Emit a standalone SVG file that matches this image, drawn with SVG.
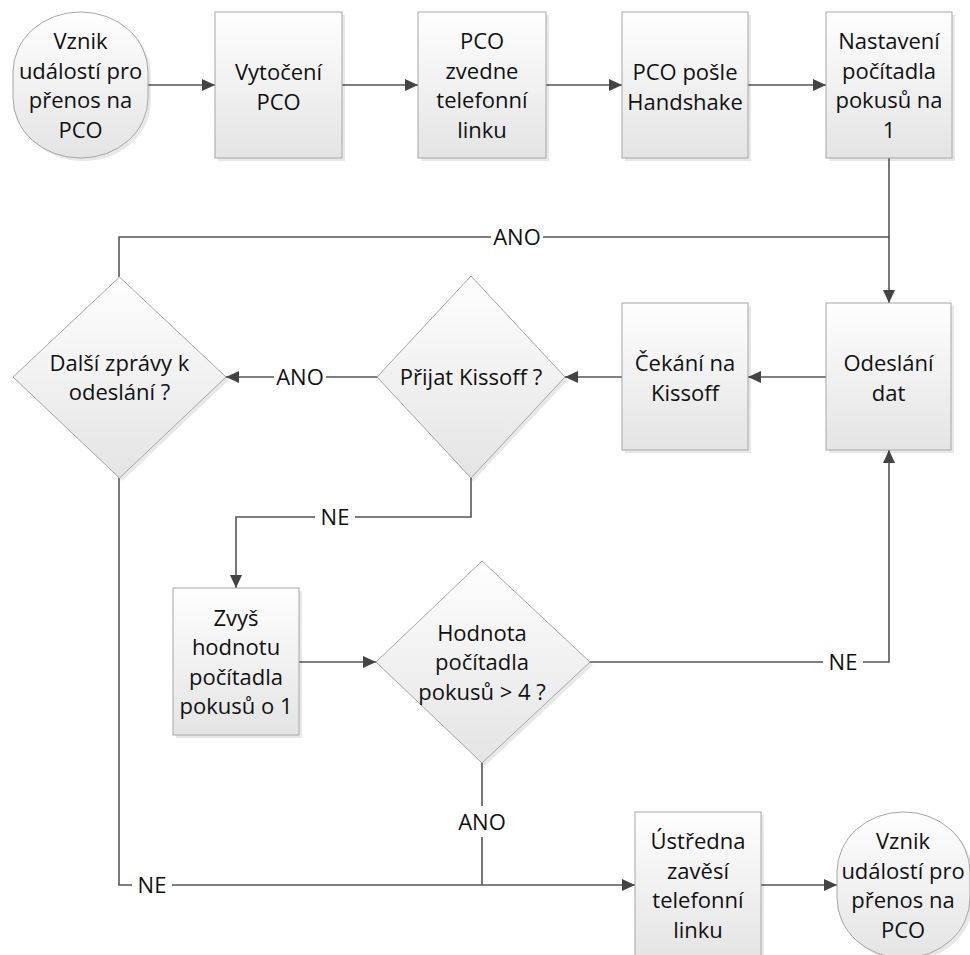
<svg xmlns="http://www.w3.org/2000/svg" width="970" height="955" viewBox="0 0 970 955">
<style>
  .shape { fill: url(#g); stroke: #a6a6a6; stroke-width: 1; }
  .shadow { fill: #000; opacity: 0.09; }
  .t { font-family: "Open Sans", "Liberation Sans", sans-serif; font-size: 22px; fill: #111; text-anchor: middle; }
  .c { fill: none; stroke: #555; stroke-width: 1.6; }
  .a { marker-end: url(#arr); }
  .lb { fill: #fff; }
</style>
<defs>
  <linearGradient id="g" x1="0" y1="0" x2="0" y2="1">
    <stop offset="0" stop-color="#fefefe"/>
    <stop offset="1" stop-color="#e4e4e4"/>
  </linearGradient>
  <marker id="arr" markerUnits="userSpaceOnUse" markerWidth="14" markerHeight="12" refX="13" refY="6" orient="auto">
    <path d="M0,0 L13,6 L0,12 z" fill="#444"/>
  </marker>
</defs>
<rect width="970" height="955" fill="#fff"/>

<g id="connectors">
  <path class="c a" d="M148,85 H215"/>
  <path class="c a" d="M342,85 H418"/>
  <path class="c a" d="M546,85 H622"/>
  <path class="c a" d="M748,85 H826"/>
  <path class="c a" d="M889,158 V303"/>
  <path class="c" d="M119,277 V237 H889"/>
  <path class="c a" d="M826,377 H748"/>
  <path class="c a" d="M622,377 H565"/>
  <path class="c a" d="M377,377 H226"/>
  <path class="c a" d="M471,478 V517 H236 V588"/>
  <path class="c a" d="M299,662 H376"/>
  <path class="c a" d="M590,662 H889 V450"/>
  <path class="c" d="M482,763 V885"/>
  <path class="c a" d="M119,478 V885 H635"/>
  <path class="c a" d="M761,885 H837"/>
  <g id="labels">
    <rect class="lb" x="491" y="225" width="52" height="24"/>
    <text class="t" x="517" y="245">ANO</text>
    <rect class="lb" x="274" y="365" width="52" height="24"/>
    <text class="t" x="300" y="385">ANO</text>
    <rect class="lb" x="315" y="505" width="40" height="24"/>
    <text class="t" x="335" y="525">NE</text>
    <rect class="lb" x="823" y="650" width="40" height="24"/>
    <text class="t" x="843" y="670">NE</text>
    <rect class="lb" x="456" y="806" width="52" height="31"/>
    <text class="t" x="482" y="830">ANO</text>
    <rect class="lb" x="132" y="873" width="40" height="24"/>
    <text class="t" x="152" y="893">NE</text>
  </g>
</g>

<g id="start">
  <rect class="shadow" x="16" y="15" width="135" height="146" rx="67" ry="60"/>
  <rect class="shape" x="13" y="12" width="135" height="146" rx="67" ry="60"/>
  <text class="t" x="80.5" y="49">Vznik</text>
  <text class="t" x="80.5" y="78.5">událostí pro</text>
  <text class="t" x="80.5" y="108">přenos na</text>
  <text class="t" x="80.5" y="137.5">PCO</text>
</g>

<g id="vytoceni">
  <rect class="shadow" x="218" y="15" width="127" height="146"/>
  <rect class="shape" x="215" y="12" width="127" height="146"/>
  <text class="t" x="278.5" y="80">Vytočení</text>
  <text class="t" x="278.5" y="109.5">PCO</text>
</g>

<g id="zvedne">
  <rect class="shadow" x="421" y="15" width="128" height="146"/>
  <rect class="shape" x="418" y="12" width="128" height="146"/>
  <text class="t" x="482" y="49">PCO</text>
  <text class="t" x="482" y="78.5">zvedne</text>
  <text class="t" x="482" y="108">telefonní</text>
  <text class="t" x="482" y="137.5">linku</text>
</g>

<g id="handshake">
  <rect class="shadow" x="625" y="15" width="126" height="146"/>
  <rect class="shape" x="622" y="12" width="126" height="146"/>
  <text class="t" x="685" y="80">PCO pošle</text>
  <text class="t" x="685" y="109.5">Handshake</text>
</g>

<g id="nastaveni">
  <rect class="shadow" x="829" y="15" width="126" height="146"/>
  <rect class="shape" x="826" y="12" width="126" height="146"/>
  <text class="t" x="889" y="49">Nastavení</text>
  <text class="t" x="889" y="78.5">počítadla</text>
  <text class="t" x="889" y="108">pokusů na</text>
  <text class="t" x="889" y="137.5">1</text>
</g>

<g id="odeslani">
  <rect class="shadow" x="829" y="306" width="125" height="147"/>
  <rect class="shape" x="826" y="303" width="125" height="147"/>
  <text class="t" x="888.5" y="371">Odeslání</text>
  <text class="t" x="888.5" y="400.5">dat</text>
</g>

<g id="cekani">
  <rect class="shadow" x="625" y="306" width="126" height="147"/>
  <rect class="shape" x="622" y="303" width="126" height="147"/>
  <text class="t" x="685" y="371">Čekání na</text>
  <text class="t" x="685" y="400.5">Kissoff</text>
</g>

<g id="prijat">
  <path class="shadow" d="M473,279 L568,380 L473,481 L380,380 z"/>
  <path class="shape" d="M471,276 L565,377 L471,478 L377,377 z"/>
  <text class="t" x="471" y="385">Přijat Kissoff ?</text>
</g>

<g id="dalsi">
  <path class="shadow" d="M122,280 L229,380 L122,481 L16,380 z"/>
  <path class="shape" d="M119.5,277 L226,377 L119.5,478 L13,377 z"/>
  <text class="t" x="119.5" y="370.5">Další zprávy k</text>
  <text class="t" x="119.5" y="400">odeslání ?</text>
</g>

<g id="zvys">
  <rect class="shadow" x="176" y="591" width="126" height="147"/>
  <rect class="shape" x="173" y="588" width="126" height="147"/>
  <text class="t" x="236" y="625.5">Zvyš</text>
  <text class="t" x="236" y="655">hodnotu</text>
  <text class="t" x="236" y="684.5">počítadla</text>
  <text class="t" x="236" y="714">pokusů o 1</text>
</g>

<g id="hodnota">
  <path class="shadow" d="M485,564 L593,665 L485,766 L379,665 z"/>
  <path class="shape" d="M482,561 L590,662 L482,763 L376,662 z"/>
  <text class="t" x="482" y="640.5">Hodnota</text>
  <text class="t" x="482" y="670">počítadla</text>
  <text class="t" x="482" y="699.5">pokusů &gt; 4 ?</text>
</g>

<g id="ustredna">
  <rect class="shadow" x="638" y="815" width="126" height="147"/>
  <rect class="shape" x="635" y="812" width="126" height="147"/>
  <text class="t" x="698" y="849">Ústředna</text>
  <text class="t" x="698" y="878.5">zavěsí</text>
  <text class="t" x="698" y="908">telefonní</text>
  <text class="t" x="698" y="937.5">linku</text>
</g>

<g id="end">
  <rect class="shadow" x="840" y="815" width="133" height="146" rx="66" ry="60"/>
  <rect class="shape" x="837" y="812" width="133" height="146" rx="66" ry="60"/>
  <text class="t" x="903" y="849">Vznik</text>
  <text class="t" x="903" y="878.5">událostí pro</text>
  <text class="t" x="903" y="908">přenos na</text>
  <text class="t" x="903" y="937.5">PCO</text>
</g>
</svg>
